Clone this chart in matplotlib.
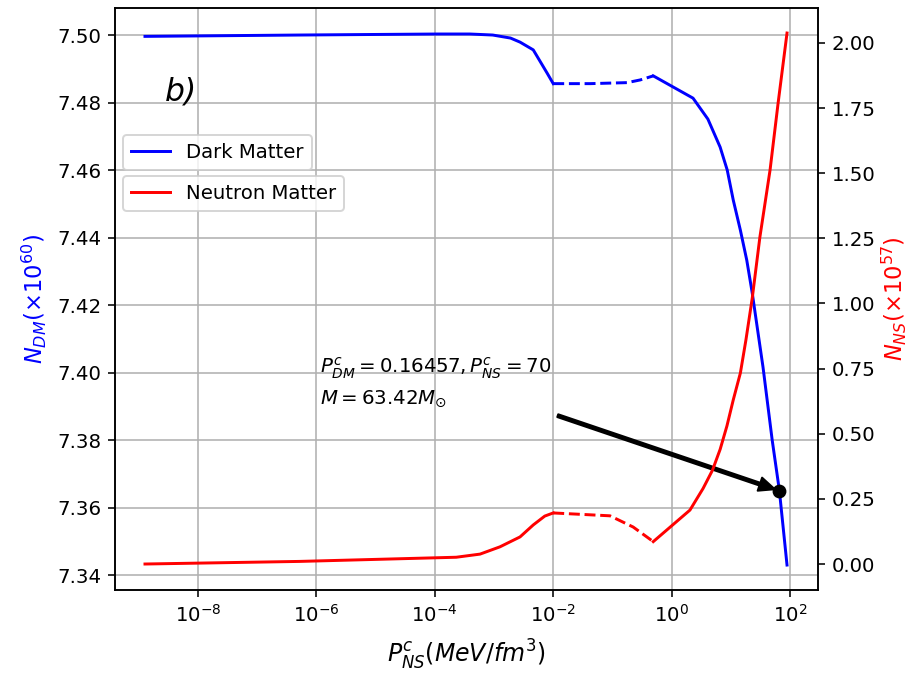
import matplotlib
matplotlib.use("Agg")
import matplotlib.pyplot as plt

# central pressure of NS matter (MeV/fm^3) and particle numbers
P_dm_stable1 = [1.27e-9, 5.2e-7, 1.1e-4, 3.9e-4, 9.5e-4, 1.9e-3, 2.75e-3, 4.6e-3, 7.9e-3, 1.0e-2]
N_dm_stable1 = [7.4996, 7.5000, 7.5003, 7.5003, 7.5000, 7.4991, 7.4979, 7.4956, 7.4887, 7.4856]

P_dm_unstable = [1.0e-2, 4.2e-2, 0.178, 0.295, 0.49]
N_dm_unstable = [7.4856, 7.4856, 7.4859, 7.4867, 7.4879]

P_dm_stable2 = [0.49, 2.3, 4.1, 6.6, 8.7, 11.0, 14.5, 18.6, 23.0, 35.0, 50.0, 66.0, 89.0]
N_dm_stable2 = [7.4879, 7.4813, 7.4751, 7.4668, 7.4600, 7.4511, 7.4422, 7.4333, 7.4236,
                7.4016, 7.3800, 7.3652, 7.3430]

P_ns_stable1 = [1.27e-9, 5.2e-7, 2.3e-4, 5.8e-4, 1.26e-3, 2.75e-3, 4.6e-3, 7.2e-3, 1.0e-2]
N_ns_stable1 = [0.000, 0.010, 0.026, 0.038, 0.066, 0.104, 0.150, 0.184, 0.196]

P_ns_unstable = [1.0e-2, 0.091, 0.224, 0.49]
N_ns_unstable = [0.196, 0.185, 0.142, 0.086]

P_ns_stable2 = [0.49, 2.04, 3.4, 4.9, 6.6, 8.6, 11.0, 14.5, 18.0, 23.0, 31.0, 46.0, 63.0, 89.0]
N_ns_stable2 = [0.086, 0.207, 0.29, 0.36, 0.44, 0.53, 0.63, 0.733, 0.86, 1.02, 1.255, 1.512,
                1.770, 2.038]

# marked configuration
P_mark, N_mark = 66.0, 7.365
P_text, N_text = 1.0e-2, 7.3877

fig = plt.figure(figsize=(910 / 142, 674 / 142), dpi=142)
ax1 = fig.add_axes([0.1264, 0.1246, 0.7725, 0.8635])
ax2 = ax1.twinx()

l1, = ax1.plot(P_dm_stable1, N_dm_stable1, color='blue', label='Dark Matter')
ax1.plot(P_dm_unstable, N_dm_unstable, color='blue', ls='--')
ax1.plot(P_dm_stable2, N_dm_stable2, color='blue')
ax1.plot(P_mark, N_mark, 'ko')
ax1.annotate('', xy=(P_mark, N_mark), xytext=(P_text, N_text),
             arrowprops=dict(facecolor='black', width=1.5, headwidth=7, headlength=8, shrink=0.02))
ax1.text(1.15e-6, 7.4052, '$P^c_{DM}=0.16457, P^c_{NS}=70$\n$M=63.42M_{\\odot}$',
         fontsize=10, va='top', linespacing=1.5)
ax1.text(2.8e-9, 7.4807, 'b)', fontsize=16, style='italic')

l2, = ax2.plot(P_ns_stable1, N_ns_stable1, color='red', label='Neutron Matter')
ax2.plot(P_ns_unstable, N_ns_unstable, color='red', ls='--')
ax2.plot(P_ns_stable2, N_ns_stable2, color='red')

ax1.set_xscale('log')
ax1.set_xlim(3.96e-10, 297)
ax1.set_ylim(7.3356, 7.508)
ax2.set_ylim(-0.0998, 2.134)
ax1.grid(True)

ax1.set_xlabel('$P^c_{NS}(MeV/fm^3)$', fontsize=12, labelpad=6)
ax1.set_ylabel('$N_{DM}(\\times10^{60})$', fontsize=11.5, color='blue')
ax2.set_ylabel('$N_{NS}(\\times10^{57})$', fontsize=11.5, color='red', labelpad=2)

ax1.legend(handles=[l1], loc='upper left', bbox_to_anchor=(0.0114, 0.782), borderaxespad=0)
ax2.legend(handles=[l2], loc='upper left', bbox_to_anchor=(0.0114, 0.711), borderaxespad=0)

fig.savefig('out.png', dpi=142)
